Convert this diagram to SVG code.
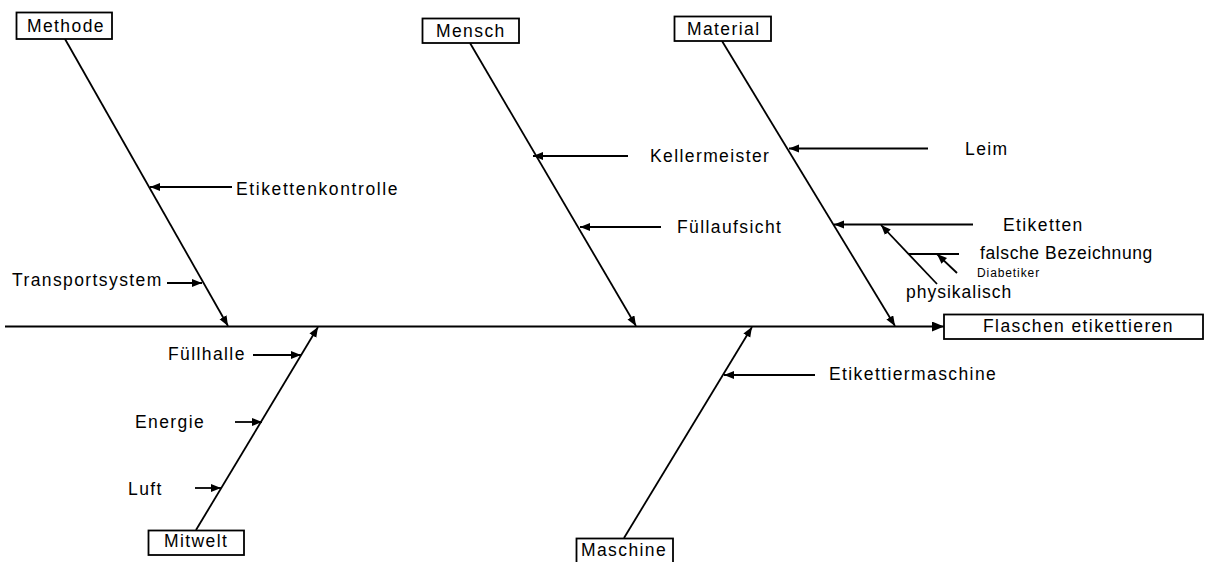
<svg xmlns="http://www.w3.org/2000/svg" width="1206" height="562" viewBox="0 0 1206 562">
  <style>
    text { font-family: "Liberation Sans", Arial, sans-serif; font-size: 17.5px; letter-spacing: 1.4px; fill: #000; }
    .small { font-size: 12px; letter-spacing: 0.9px; }
    .box { fill: #fff; stroke: #000; stroke-width: 1.8; }
    .bone { stroke: #000; stroke-width: 1.8; fill: none; }
    .arr { stroke: #000; stroke-width: 1.8; fill: none; marker-end: url(#head); }
  </style>
  <defs>
    <marker id="head" markerUnits="userSpaceOnUse" markerWidth="12" markerHeight="10" refX="10" refY="4" orient="auto">
      <path d="M0,0 L10,4 L0,8 Z" fill="#000"/>
    </marker>
    <marker id="bighead" markerUnits="userSpaceOnUse" markerWidth="14" markerHeight="12" refX="12" refY="5" orient="auto">
      <path d="M0,0 L12,5 L0,10 Z" fill="#000"/>
    </marker>
  </defs>
  <rect width="1206" height="562" fill="#fff"/>

  <!-- spine, main bones and sub-cause arrows -->
  <g id="connectors">
    <line x1="5" y1="326.5" x2="944" y2="326.5" class="bone" marker-end="url(#bighead)"/>

    <line x1="65" y1="39" x2="228" y2="326" class="arr"/>
    <line x1="470" y1="43" x2="636" y2="326" class="arr"/>
    <line x1="722" y1="41" x2="895" y2="326" class="arr"/>
    <line x1="196" y1="530" x2="318" y2="327" class="arr"/>
    <line x1="624" y1="538" x2="752" y2="327" class="arr"/>

    <line x1="232" y1="187" x2="150" y2="187" class="arr"/>
    <line x1="167" y1="283" x2="202" y2="283" class="arr"/>
    <line x1="628" y1="156" x2="533" y2="156" class="arr"/>
    <line x1="661" y1="227" x2="580" y2="227" class="arr"/>
    <line x1="928" y1="148.5" x2="789" y2="148.5" class="arr"/>
    <line x1="973" y1="224.5" x2="834" y2="224.5" class="arr"/>
    <line x1="937" y1="284" x2="881" y2="225" class="arr"/>
    <line x1="908.5" y1="254" x2="959" y2="254" class="bone"/>
    <line x1="957" y1="273" x2="937" y2="254" class="arr"/>
    <line x1="253" y1="355" x2="301" y2="355" class="arr"/>
    <line x1="235" y1="422" x2="262" y2="422" class="arr"/>
    <line x1="195" y1="488" x2="221" y2="488" class="arr"/>
    <line x1="815" y1="375" x2="724" y2="375" class="arr"/>
  </g>

  <g id="effect">
    <rect x="944" y="314.5" width="259" height="24.5" class="box"/>
    <text x="983" y="332">Flaschen etikettieren</text>
  </g>

  <g id="methode">
    <rect x="16.5" y="12.5" width="95.5" height="26.5" class="box"/>
    <text x="27" y="31.5">Methode</text>
  </g>
  <g id="mensch">
    <rect x="422.5" y="18.5" width="96.5" height="24.5" class="box"/>
    <text x="436" y="37">Mensch</text>
  </g>
  <g id="material">
    <rect x="674.5" y="16.5" width="96.5" height="24.5" class="box"/>
    <text x="687" y="35">Material</text>
  </g>
  <g id="mitwelt">
    <rect x="148.5" y="530.5" width="95.5" height="24.5" class="box"/>
    <text x="164" y="547">Mitwelt</text>
  </g>
  <g id="maschine">
    <rect x="576.5" y="538.5" width="96.5" height="30" class="box"/>
    <text x="581" y="556">Maschine</text>
  </g>

  <g id="causes">
    <text x="236" y="195" style="letter-spacing:1.6px">Etikettenkontrolle</text>
    <text x="12" y="286">Transportsystem</text>
    <text x="650" y="162">Kellermeister</text>
    <text x="677" y="233">Füllaufsicht</text>
    <text x="965" y="155">Leim</text>
    <text x="1003" y="231">Etiketten</text>
    <text x="980" y="259" style="letter-spacing:0.6px">falsche Bezeichnung</text>
    <text x="977" y="276.5" class="small">Diabetiker</text>
    <text x="906" y="298" style="letter-spacing:1px">physikalisch</text>
    <text x="168" y="360">Füllhalle</text>
    <text x="135" y="428">Energie</text>
    <text x="128" y="495">Luft</text>
    <text x="829" y="380">Etikettiermaschine</text>
  </g>
</svg>
